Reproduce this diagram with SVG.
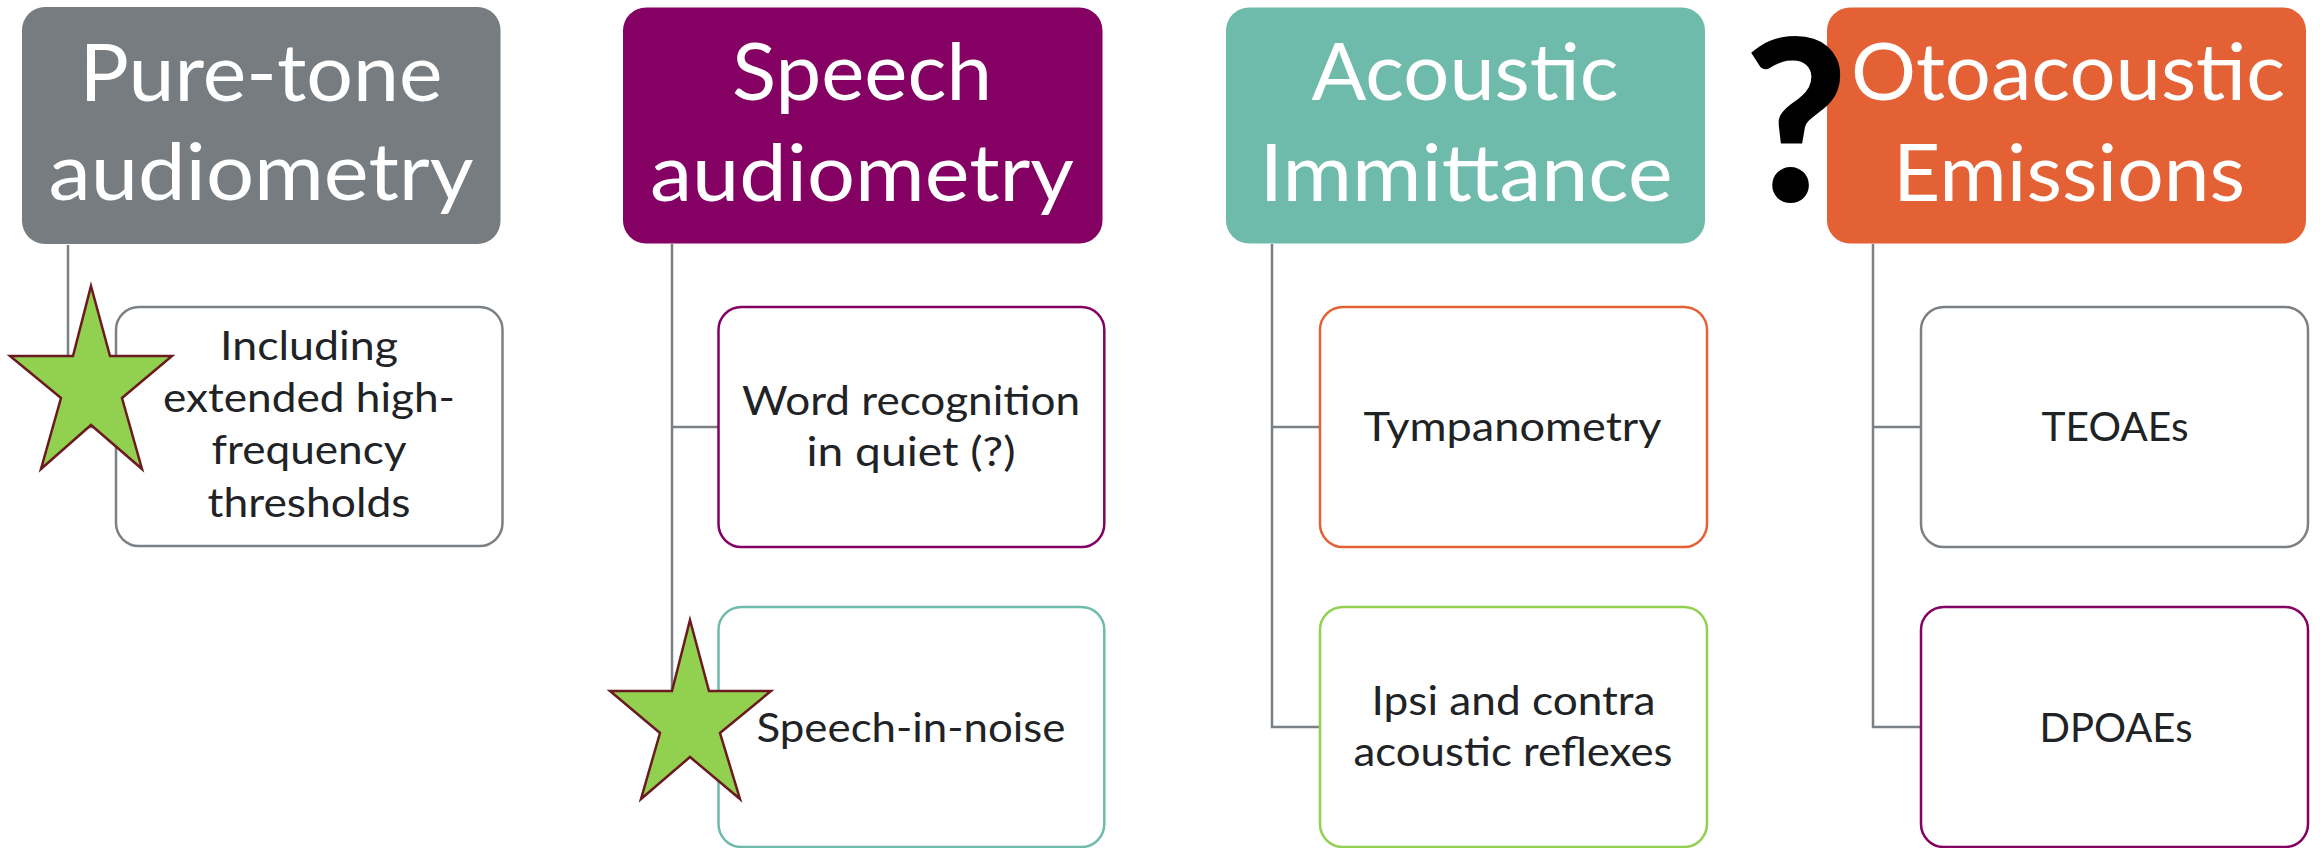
<svg xmlns="http://www.w3.org/2000/svg" width="2320" height="848" viewBox="0 0 2320 848">
  <style>
    .head { font-family: Lato, "Open Sans", sans-serif; font-size: 80px; fill: #ffffff; text-anchor: middle; }
    .item { font-family: Lato, "Open Sans", sans-serif; font-size: 41px; fill: #1f2326; text-anchor: middle; }
    .card { fill: #ffffff; stroke-width: 2.5; }
    .link { fill: none; stroke: #7b8084; stroke-width: 2.5; }
    .star { fill: #92d050; stroke: #6b1a1f; stroke-width: 2.5; stroke-linejoin: miter; }
    .grey { stroke: #7b8084; }
    .purple { stroke: #840062; }
    .teal { stroke: #6fbbab; }
    .orange { stroke: #e46135; }
    .green { stroke: #92d050; }
  </style>

  <rect width="2320" height="848" fill="#ffffff"/>

  <!-- connectors: vertical spine from each header, elbows into its cards -->
  <g id="connectors">
    <path class="link" d="M68 245 V427 H116"/>
    <path class="link" d="M672 244 V727 H718.5 M672 427 H718.5"/>
    <path class="link" d="M1272 244 V727 H1320 M1272 427 H1320"/>
    <path class="link" d="M1873 244 V727 H1921 M1873 427 H1921"/>
  </g>

  <!-- column 1 -->
  <g id="pure-tone">
    <rect x="22" y="7" width="478.5" height="237" rx="23" fill="#767c7f"/>
    <text class="head" x="261" y="101" textLength="363" lengthAdjust="spacingAndGlyphs">Pure-tone</text>
    <text class="head" x="261" y="200" textLength="425" lengthAdjust="spacingAndGlyphs">audiometry</text>
  </g>
  <g id="extended-hf">
    <rect class="card grey" x="116" y="307" width="386.5" height="239" rx="23"/>
    <text class="item" x="309" y="360" textLength="178" lengthAdjust="spacingAndGlyphs">Including</text>
    <text class="item" x="309" y="412" textLength="292" lengthAdjust="spacingAndGlyphs">extended high-</text>
    <text class="item" x="309" y="464" textLength="195" lengthAdjust="spacingAndGlyphs">frequency</text>
    <text class="item" x="309" y="517" textLength="203" lengthAdjust="spacingAndGlyphs">thresholds</text>
  </g>

  <!-- column 2 -->
  <g id="speech">
    <rect x="623" y="7.5" width="479.5" height="236" rx="23" fill="#840062"/>
    <text class="head" x="862" y="100" textLength="260" lengthAdjust="spacingAndGlyphs">Speech</text>
    <text class="head" x="862" y="201" textLength="424" lengthAdjust="spacingAndGlyphs">audiometry</text>
  </g>
  <g id="word-recognition">
    <rect class="card purple" x="718.5" y="307" width="385.8" height="240" rx="23"/>
    <text class="item" x="911" y="415" textLength="338" lengthAdjust="spacingAndGlyphs">Word recognition</text>
    <text class="item" x="911" y="466" textLength="209" lengthAdjust="spacingAndGlyphs">in quiet (?)</text>
  </g>
  <g id="speech-in-noise">
    <rect class="card teal" x="718.5" y="607" width="385.8" height="240" rx="23"/>
    <text class="item" x="911" y="742" textLength="309" lengthAdjust="spacingAndGlyphs">Speech-in-noise</text>
  </g>

  <!-- column 3 -->
  <g id="immittance">
    <rect x="1226" y="7.5" width="479" height="236" rx="23" fill="#6fbbab"/>
    <text class="head" x="1465" y="100" textLength="307" lengthAdjust="spacingAndGlyphs">Acoustic</text>
    <text class="head" x="1466" y="201" textLength="413" lengthAdjust="spacingAndGlyphs">Immittance</text>
  </g>
  <g id="tympanometry">
    <rect class="card orange" x="1320" y="307" width="387" height="240" rx="23"/>
    <text class="item" x="1512.5" y="441" textLength="298" lengthAdjust="spacingAndGlyphs">Tympanometry</text>
  </g>
  <g id="reflexes">
    <rect class="card green" x="1320" y="607" width="387" height="240" rx="23"/>
    <text class="item" x="1513.5" y="715" textLength="284" lengthAdjust="spacingAndGlyphs">Ipsi and contra</text>
    <text class="item" x="1513" y="766" textLength="319" lengthAdjust="spacingAndGlyphs">acoustic reflexes</text>
  </g>

  <!-- column 4 -->
  <g id="oae">
    <rect x="1827" y="7.5" width="479" height="236" rx="23" fill="#e46135"/>
    <text class="head" x="2068" y="100" textLength="434" lengthAdjust="spacingAndGlyphs">Otoacoustic</text>
    <text class="head" x="2069" y="201" textLength="352" lengthAdjust="spacingAndGlyphs">Emissions</text>
  </g>
  <g id="teoae">
    <rect class="card grey" x="1921" y="307" width="387" height="240" rx="23"/>
    <text class="item" x="2115" y="441" textLength="147" lengthAdjust="spacingAndGlyphs">TEOAEs</text>
  </g>
  <g id="dpoae">
    <rect class="card purple" x="1921" y="607" width="387" height="240" rx="23"/>
    <text class="item" x="2116" y="742" textLength="153" lengthAdjust="spacingAndGlyphs">DPOAEs</text>
  </g>

  <!-- highlight marks drawn over the chart -->
  <g id="star-extended-hf">
    <polygon class="star" points="91,286 110,356 172,356 122,398 142,469 91,425 41,469 61,398 10,356 73,356"/>
  </g>
  <g id="star-speech-in-noise">
    <polygon class="star" points="690,620 709,691 771,691 720,733 740,799 690,757 641,799 660,733 610,691 672,691"/>
  </g>
  <g id="question-oae">
    <text x="1796" y="201" font-family="Lato, sans-serif" font-weight="900" font-size="225" fill="#000000" text-anchor="middle">?</text>
  </g>
</svg>
